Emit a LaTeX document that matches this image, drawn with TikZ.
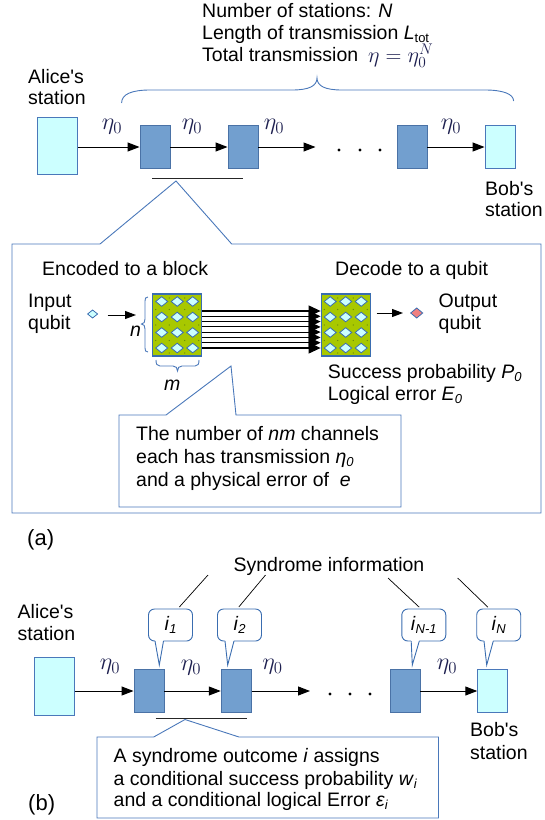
\RequirePackage{fix-cm}
\documentclass[tikz,border=0pt]{standalone}
\usepackage{fontspec}
\setmainfont{Liberation Sans}
\usetikzlibrary{arrows.meta}
\definecolor{cyanfill}{HTML}{CCFFFF}
\definecolor{stfill}{HTML}{729FCF}
\definecolor{stline}{HTML}{4A72A6}
\definecolor{bline}{HTML}{4A78BA}
\definecolor{blockfill}{HTML}{A8C800}
\definecolor{dmline}{HTML}{3A6DB0}
\definecolor{outfill}{HTML}{F08080}
\definecolor{etacol}{HTML}{1E2050}
\definecolor{dotcol}{HTML}{5F7F10}
\newcommand\txt{\fontsize{19.5}{22}\selectfont}
\newcommand\sub[1]{\raisebox{-0.3ex}{\fontsize{13}{13}\selectfont #1}}
\newcommand\apos{\textquotesingle}
\begin{document}
\begin{tikzpicture}[x=1pt,y=-1pt,
  lbl/.style={anchor=base west,inner sep=0pt,font=\txt},
  bigl/.style={anchor=base west,inner sep=0pt,font=\fontsize{22}{24}\selectfont},
  endbox/.style={draw=bline,fill=cyanfill,line width=0.9pt,inner sep=0pt},
  stbox/.style={draw=stline,fill=stfill,line width=0.9pt,minimum width=30pt,minimum height=43pt,inner sep=0pt},
  arr/.style={-{Triangle[length=12pt,width=9pt]},line width=1pt},
  chan/.style={-{Triangle[length=12pt,width=11pt]},line width=1.1pt},
  eta/.style={inner sep=0pt,text=etacol,font=\fontsize{24}{24}\selectfont},
  bl/.style={draw=bline,line width=0.9pt},
  blk/.style={draw=dmline,fill=blockfill,line width=1.2pt,minimum width=49pt,minimum height=62pt,inner sep=0pt},
  bub/.style={draw=dmline,fill=white,line width=0.9pt,rounded corners=6pt,minimum width=44pt,minimum height=32pt,inner sep=0pt,font=\txt}
]
\useasboundingbox (0,0) rectangle (545,820);

%================ (a) =================
\node[lbl] (nst) at (202,17) {Number of stations: \textit{N}};
\node[lbl] (len) at (202,39) {Length of transmission \textit{L}\sub{tot}};
\node[lbl] (tot) at (202,61) {Total transmission};
\node[anchor=base west,inner sep=0pt,text=etacol,font=\fontsize{22}{22}\selectfont] (eqn) at (368,62.5) {$\eta = \eta_0^N$};

% brace
\draw[bl] (121.6,103) .. controls (121.6,94) and (132,90) .. (150,90) -- (292,90)
  .. controls (309,90) and (317,86) .. (317,78)
  .. controls (317,86) and (325,90) .. (342,90) -- (485,90)
  .. controls (503,90) and (513.6,94) .. (513.6,101);

\node[lbl] (al1) at (28,83.3) {Alice\apos s};
\node[lbl] (al2) at (28,104.3) {station};
\node[lbl] (bo1) at (485,195) {Bob\apos s};
\node[lbl] (bo2) at (485,216.7) {station};

\node[endbox,minimum width=40pt,minimum height=57pt] (A) at (57.5,145.5) {};
\node[stbox] (S1) at (155,147) {};
\node[stbox] (S2) at (243,147) {};
\node[stbox] (SN) at (412,147) {};
\node[endbox,minimum width=30pt,minimum height=43pt] (B) at (500,147) {};
\coordinate (c3) at (315.5,147);

\draw[arr] (A.east |- S1.west) -- (S1.west);
\draw[arr] (S1.east) -- (S2.west);
\draw[arr] (S2.east) -- (c3);
\draw[arr] (SN.east) -- (B.west);
\foreach \x in {339,360,380} \fill (\x,150) circle (1.6pt);

\node[eta] (e1) at (112,127) {$\eta_0$};
\node[eta] (e2) at (192,127) {$\eta_0$};
\node[eta] (e3) at (274,127) {$\eta_0$};
\node[eta] (e4) at (451,127) {$\eta_0$};

% underline and big callout
\coordinate (u1) at (152.3,178.3);
\coordinate (u2) at (242.7,178.3);
\draw[line width=0.9pt,black!85] (u1) -- (u2);
\draw[bl] (12,244) -- (100,244) -- (176,181) -- (231.7,244) -- (541,244) -- (541,513) -- (12,513) -- cycle;

\node[lbl] (enc) at (42,275.7) {Encoded to a block};
\node[lbl] (dec) at (335,275.7) {Decode to a qubit};
\node[lbl] (in1) at (28,307.7) {Input};
\node[lbl] (in2) at (28,329.3) {qubit};
\node[lbl] (out1) at (438.5,307.7) {Output};
\node[lbl] (out2) at (438.5,329.3) {qubit};

% blocks
\node[blk] (b1) at (177.2,325) {};
\node[blk] (b2) at (345.7,325) {};
\foreach \bx in {152.7,321.2}{
  \foreach \dx in {16.5,32}{\foreach \dy in {4,15.5,31,46.5,59} \fill[dotcol] (\bx+\dx,294+\dy) circle (0.6pt);}
  \foreach \dx in {3,46}{\foreach \dy in {15.5,31,46.5} \fill[dotcol] (\bx+\dx,294+\dy) circle (0.6pt);}
  \foreach \dx in {9,24.5,40}{
    \foreach \dy in {7.5,23,38.5,54}{
      \draw[dmline,fill=cyanfill,line width=0.8pt] (\bx+\dx-6,294+\dy) -- (\bx+\dx,294+\dy-4.8) -- (\bx+\dx+6,294+\dy) -- (\bx+\dx,294+\dy+4.8) -- cycle;
    }
  }
}
\foreach \yy in {311,316.3,321.6,326.9,332.1,337.4,342.7,348}
  \draw[chan] (b1.east |- 0,\yy) -- (b2.west |- 0,\yy);

% input / output qubits
\coordinate (inq) at (92.6,314);
\draw[dmline,fill=cyanfill,line width=0.8pt] (87.6,314) -- (92.6,310) -- (97.6,314) -- (92.6,318) -- cycle;
\coordinate (inarr) at (107.6,315);
\draw[arr,-{Triangle[length=11pt,width=8pt]}] (inarr) -- (inarr -| 136,0);
\coordinate (outq) at (416.7,313);
\draw[dmline,fill=outfill,line width=0.8pt] (410.7,313) -- (416.7,308) -- (422.7,313) -- (416.7,318) -- cycle;
\coordinate (outarr) at (376.7,313);
\draw[arr,-{Triangle[length=11pt,width=8pt]}] (outarr) -- (403,313);

% n and m braces
\draw[bl] (148,297) .. controls (145.5,297) and (145,298.5) .. (145,301) -- (145,319)
  .. controls (145,322) and (144,324) .. (141.5,324)
  .. controls (144,324) and (145,326) .. (145,329) -- (145,348)
  .. controls (145,350.5) and (145.5,352) .. (148,352);
\node[lbl] (nlab) at (130,336) {\textit{n}};
\draw[bl] (156,360) .. controls (156,364) and (157,366) .. (160,366) -- (173,366)
  .. controls (176,366) and (177.5,368) .. (177.5,371)
  .. controls (177.5,368) and (179,366) .. (182,366) -- (195,366)
  .. controls (198,366) and (199,364) .. (199,360);
\node[lbl] (mlab) at (164,390) {\textit{m}};

\node[lbl] (succ) at (327.7,378.3) {Success probability \textit{P}\sub{\textit{0}}};
\node[lbl] (lerr) at (327.7,400) {Logical error \textit{E}\sub{\textit{0}}};

% inner callout
\draw[bl] (119,415) -- (166,415) -- (231,366) -- (236,415) -- (401,415) -- (401,507) -- (119,507) -- cycle;
\node[lbl] (ca1) at (136,440) {The number of \textit{nm} channels};
\node[lbl] (ca2) at (136,463.3) {each has transmission \textit{η}\sub{\textit{0}}};
\node[lbl] (ca3) at (136,486) {and a physical error of \ \textit{e}};

\node[bigl] (alab) at (27,545.7) {(a)};

%================ (b) =================
\node[lbl] (synd) at (233.4,571.7) {Syndrome information};

\node[bub] (i1) at (170.5,625) {\textit{i}\sub{\textit{1}}};
\node[bub] (i2) at (239.5,625) {\textit{i}\sub{\textit{2}}};
\node[bub] (iN1) at (423.8,625) {\textit{i}\sub{\textit{N-1}}};
\node[bub] (iN) at (498.7,625) {\textit{i}\sub{\textit{N}}};
\foreach \ba/\tx/\bb in {155/159.3/163.5, 225/227.7/234, 411.2/412.3/419.3, 484/486.7/493.3}{
  \fill[white] (\ba,640) -- (\tx,665) -- (\bb,640) -- cycle;
  \draw[dmline,line width=0.9pt] (\ba,641) -- (\tx,665) -- (\bb,641);
}
\coordinate (l1) at (208,575);
\coordinate (l2) at (265.5,575);
\coordinate (l3) at (388,578);
\coordinate (l4) at (457.7,578);
\draw[line width=0.7pt,shorten >=2pt] (l1) -- ([xshift=7.5pt]i1.north);
\draw[line width=0.7pt,shorten >=2pt] (l2) -- ([xshift=-2pt]i2.north);
\draw[line width=0.7pt,shorten >=2pt] (l3) -- ([xshift=-3.1pt]iN1.north);
\draw[line width=0.7pt,shorten >=2pt] (l4) -- ([xshift=-9.4pt]iN.north);

\node[lbl] (bal1) at (17.5,618.3) {Alice\apos s};
\node[lbl] (bal2) at (17.5,640.7) {station};
\node[lbl] (bbo1) at (470,736.7) {Bob\apos s};
\node[lbl] (bbo2) at (470,759.3) {station};

\node[endbox,minimum width=40pt,minimum height=58pt] (BA) at (54.2,686) {};
\node[stbox] (BS1) at (149,691) {};
\node[stbox] (BS2) at (236.2,691) {};
\node[stbox] (BSN) at (405,691) {};
\node[endbox,minimum width=30pt,minimum height=43pt] (BB) at (492.7,691) {};
\coordinate (bc3) at (310,691);

\draw[arr] (BA.east |- BS1.west) -- (BS1.west);
\draw[arr] (BS1.east) -- (BS2.west);
\draw[arr] (BS2.east) -- (bc3);
\draw[arr] (BSN.east) -- (BB.west);
\foreach \x in {330,350,370} \fill (\x,694) circle (1.6pt);

\node[eta] (f1) at (110,667) {$\eta_0$};
\node[eta] (f2) at (191,668) {$\eta_0$};
\node[eta] (f3) at (272.5,667) {$\eta_0$};
\node[eta] (f4) at (447,667) {$\eta_0$};

\coordinate (v1) at (155.5,718);
\coordinate (v2) at (246.5,718);
\draw[line width=0.9pt,black!85] (v1) -- (v2);
\draw[bl] (97,737) -- (153.7,737) -- (185,719.5) -- (239,737) -- (438.5,737) -- (438.5,818) -- (97,818) -- cycle;
\node[lbl] (cb1) at (113.5,762.7) {A syndrome outcome \textit{i} assigns};
\node[lbl] (cb2) at (113.5,785) {a conditional success probability \textit{w}\sub{\textit{i}}};
\node[lbl] (cb3) at (113.5,806.7) {and a conditional logical Error \textit{ε}\sub{\textit{i}}};

\node[bigl] (blab) at (28,810) {(b)};
\end{tikzpicture}
\end{document}
